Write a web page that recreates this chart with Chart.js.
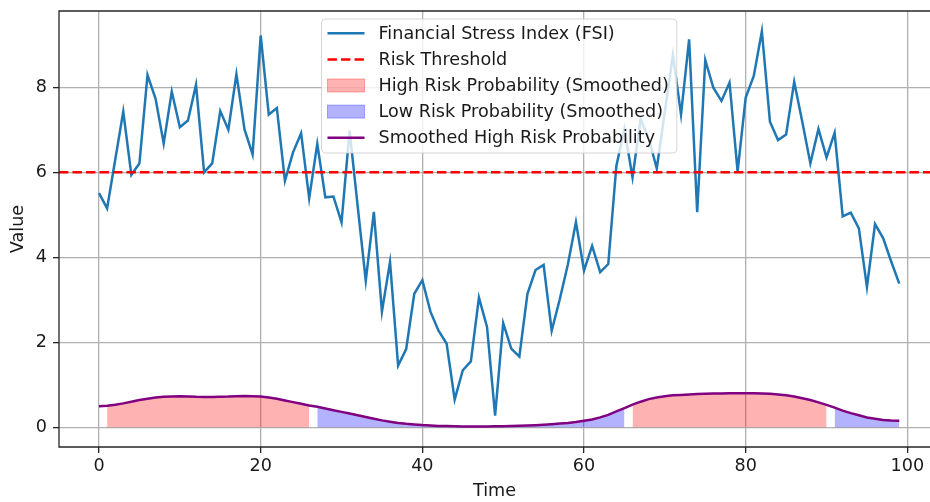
<!DOCTYPE html>
<html>
<head>
<meta charset="utf-8">
<script src="https://cdn.jsdelivr.net/npm/chart.js@4.4.1/dist/chart.umd.min.js"></script>
<style>
  html, body { margin: 0; padding: 0; overflow: hidden; background: #fff; width: 930px; height: 502px; }
  canvas { display: block; }
</style>
</head>
<body>
<canvas id="chart" width="930" height="502"></canvas>
<script>
// data
const time = [
  0, 1, 2, 3, 4, 5, 6, 7, 8, 9, 10, 11, 12, 13, 14, 15, 16, 17, 18, 19,
  20, 21, 22, 23, 24, 25, 26, 27, 28, 29, 30, 31, 32, 33, 34, 35, 36, 37, 38, 39,
  40, 41, 42, 43, 44, 45, 46, 47, 48, 49, 50, 51, 52, 53, 54, 55, 56, 57, 58, 59,
  60, 61, 62, 63, 64, 65, 66, 67, 68, 69, 70, 71, 72, 73, 74, 75, 76, 77, 78, 79,
  80, 81, 82, 83, 84, 85, 86, 87, 88, 89, 90, 91, 92, 93, 94, 95, 96, 97, 98, 99
];
const fsi = [
  5.51, 5.15, 6.29, 7.43, 5.94, 6.21, 8.29, 7.73, 6.68, 7.90,
  7.06, 7.22, 8.06, 6.00, 6.21, 7.44, 7.00, 8.31, 7.01, 6.42,
  9.22, 7.36, 7.51, 5.80, 6.47, 6.92, 5.39, 6.67, 5.41, 5.43,
  4.82, 6.98, 5.20, 3.45, 5.07, 2.72, 3.89, 1.45, 1.84, 3.14,
  3.46, 2.72, 2.27, 1.97, 0.65, 1.34, 1.55, 3.05, 2.36, 0.27,
  2.45, 1.85, 1.66, 3.14, 3.70, 3.82, 2.27, 3.01, 3.83, 4.83,
  3.69, 4.27, 3.65, 3.84, 6.15, 7.02, 5.88, 7.25, 6.80, 6.09,
  7.43, 8.76, 7.36, 9.13, 5.06, 8.64, 7.99, 7.68, 8.11, 6.02,
  7.76, 8.27, 9.32, 7.19, 6.76, 6.89, 8.13, 7.19, 6.21, 7.02,
  6.35, 6.93, 4.96, 5.05, 4.68, 3.30, 4.78, 4.45, 3.90, 3.38
];
const smoothHigh = [
  0.49, 0.505, 0.53, 0.56, 0.60, 0.64, 0.67, 0.70, 0.715, 0.725,
  0.73, 0.725, 0.715, 0.71, 0.71, 0.715, 0.72, 0.73, 0.735, 0.73,
  0.72, 0.70, 0.67, 0.63, 0.59, 0.55, 0.51, 0.48, 0.44, 0.40,
  0.36, 0.32, 0.28, 0.24, 0.20, 0.16, 0.13, 0.10, 0.08, 0.065,
  0.05, 0.04, 0.03, 0.025, 0.02, 0.018, 0.017, 0.017, 0.018, 0.02,
  0.023, 0.027, 0.032, 0.04, 0.048, 0.058, 0.07, 0.085, 0.10, 0.12,
  0.15, 0.18, 0.23, 0.29, 0.37, 0.45, 0.53, 0.60, 0.66, 0.70,
  0.73, 0.75, 0.76, 0.77, 0.78, 0.785, 0.79, 0.795, 0.80, 0.80,
  0.80, 0.80, 0.795, 0.785, 0.77, 0.75, 0.72, 0.68, 0.64, 0.585,
  0.525, 0.46, 0.39, 0.33, 0.28, 0.23, 0.20, 0.17, 0.155, 0.15
];
const threshold = 6;
const probCut = 0.5;
const xTicks = [0, 20, 40, 60, 80, 100];
const yTicks = [0, 2, 4, 6, 8];
// visible axis range (the right edge of the original figure is cut off)
const xMin = -4.95, xMax = 102.8;
const yMin = -0.4665, yMax = 9.7965;

const FONT = '"DejaVu Sans", sans-serif';
const FSIZE = 17.6;
const TEXT = '#1a1a1a';
const HIGH_FILL = 'rgba(255,0,0,0.3)';
const LOW_FILL = 'rgba(0,0,255,0.3)';

// split the smoothed curve into runs of high / low risk
const segments = [];
let cur = null;
smoothHigh.forEach((v, i) => {
  const high = v > probCut;
  if (!cur || cur.high !== high) {
    cur = { high, pts: [] };
    segments.push(cur);
  }
  cur.pts.push({ x: time[i], y: v });
});

const datasets = [];
datasets.push({
  label: 'Financial Stress Index (FSI)',
  data: time.map((t, i) => ({ x: t, y: fsi[i] })),
  borderColor: '#1f77b4', borderWidth: 2.5, pointRadius: 0, tension: 0, order: 5
});
datasets.push({
  label: 'Risk Threshold',
  data: [{ x: xMin, y: threshold }, { x: xMax, y: threshold }],
  borderColor: '#ff0000', borderWidth: 2.5, borderDash: [9.4, 4.1],
  pointRadius: 0, order: 4
});
segments.forEach(s => {
  datasets.push({
    label: s.high ? 'High Risk Probability (Smoothed)' : 'Low Risk Probability (Smoothed)',
    data: s.pts,
    borderColor: s.high ? HIGH_FILL : LOW_FILL,
    backgroundColor: s.high ? HIGH_FILL : LOW_FILL,
    borderWidth: 1, pointRadius: 0, fill: 'origin', order: 3
  });
});
datasets.push({
  label: 'Smoothed High Risk Probability',
  data: time.map((t, i) => ({ x: t, y: smoothHigh[i] })),
  borderColor: '#800080', borderWidth: 2.5, pointRadius: 0, tension: 0, order: 1
});

const legendItems = [
  { label: 'Financial Stress Index (FSI)', kind: 'line', color: '#1f77b4' },
  { label: 'Risk Threshold', kind: 'dash', color: '#ff0000' },
  { label: 'High Risk Probability (Smoothed)', kind: 'patch', color: HIGH_FILL },
  { label: 'Low Risk Probability (Smoothed)', kind: 'patch', color: LOW_FILL },
  { label: 'Smoothed High Risk Probability', kind: 'line', color: '#800080' }
];

// spines (left, top, bottom) + matplotlib-like legend inside the axes
const framePlugin = {
  id: 'frameAndLegend',
  afterDraw(chart) {
    const { ctx, chartArea: a } = chart;
    ctx.save();
    ctx.strokeStyle = '#262626';
    ctx.lineWidth = 1.3;
    ctx.beginPath();
    ctx.moveTo(a.right + 2, a.top);
    ctx.lineTo(a.left, a.top);
    ctx.lineTo(a.left, a.bottom);
    ctx.lineTo(a.right + 2, a.bottom);
    ctx.stroke();

    ctx.font = FSIZE + 'px ' + FONT;
    const maxW = Math.max(...legendItems.map(it => ctx.measureText(it.label).width));
    const boxW = 57 + maxW + 8;
    const rowH = 26.1;
    const boxH = 134;
    const mid = chart.scales.x.getPixelForValue((time[0] + time[time.length - 1]) / 2);
    const bx = mid - boxW / 2;
    const by = a.top + 8;
    ctx.beginPath();
    ctx.roundRect(bx, by, boxW, boxH, 4);
    ctx.fillStyle = 'rgba(255,255,255,0.8)';
    ctx.fill();
    ctx.strokeStyle = 'rgba(204,204,204,0.8)';
    ctx.lineWidth = 1;
    ctx.stroke();

    legendItems.forEach((it, i) => {
      const cy = by + 14.3 + i * rowH;
      const hx0 = bx + 6, hx1 = bx + 43;
      if (it.kind === 'patch') {
        ctx.fillStyle = it.color;
        ctx.fillRect(hx0, cy - 6.5, hx1 - hx0, 13);
        ctx.strokeStyle = it.color;
        ctx.lineWidth = 1;
        ctx.strokeRect(hx0, cy - 6.5, hx1 - hx0, 13);
      } else {
        ctx.beginPath();
        ctx.setLineDash(it.kind === 'dash' ? [9.4, 4.1] : []);
        ctx.strokeStyle = it.color;
        ctx.lineWidth = 2.5;
        ctx.moveTo(hx0, cy);
        ctx.lineTo(hx1, cy);
        ctx.stroke();
        ctx.setLineDash([]);
      }
      ctx.fillStyle = TEXT;
      ctx.textBaseline = 'middle';
      ctx.textAlign = 'left';
      ctx.fillText(it.label, bx + 57, cy + 1);
    });
    ctx.restore();
  }
};

new Chart(document.getElementById('chart'), {
  type: 'line',
  data: { datasets: datasets },
  options: {
    responsive: false,
    animation: false,
    layout: { padding: { top: 11, right: 0, left: 0, bottom: 0 } },
    plugins: { legend: { display: false }, tooltip: { enabled: false } },
    scales: {
      x: {
        type: 'linear', min: xMin, max: xMax,
        afterBuildTicks: s => { s.ticks = xTicks.map(v => ({ value: v })); },
        afterFit: s => { s.height = 55; s.paddingLeft = 0; s.paddingRight = 0; },
        grid: { color: '#b0b0b0', lineWidth: 1.3, tickColor: '#262626', tickLength: 6, tickWidth: 1.3 },
        border: { display: false },
        ticks: { color: TEXT, font: { family: FONT, size: FSIZE }, padding: 3, maxRotation: 0 },
        title: { display: true, text: 'Time', color: TEXT, font: { family: FONT, size: FSIZE }, padding: { top: 2, bottom: 0 } }
      },
      y: {
        type: 'linear', min: yMin, max: yMax,
        afterBuildTicks: s => { s.ticks = yTicks.map(v => ({ value: v })); },
        afterFit: s => { s.width = 59; s.paddingTop = 0; s.paddingBottom = 0; },
        grid: { color: '#b0b0b0', lineWidth: 1.3, tickColor: '#262626', tickLength: 6, tickWidth: 1.3 },
        border: { display: false },
        ticks: { color: TEXT, font: { family: FONT, size: FSIZE }, padding: 6 },
        title: { display: true, text: 'Value', color: TEXT, font: { family: FONT, size: FSIZE }, padding: { top: 8, bottom: 0 } }
      }
    }
  },
  plugins: [framePlugin]
});
</script>
</body>
</html>
